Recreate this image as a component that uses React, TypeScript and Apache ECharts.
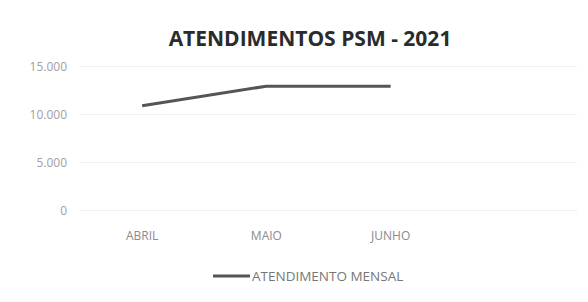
import React, { useEffect, useRef } from "react";
import * as echarts from "echarts";

const title = "ATENDIMENTOS PSM - 2021";
const categories = ["ABRIL", "MAIO", "JUNHO", ""];
const seriesName = "ATENDIMENTO MENSAL";
const values: (number | null)[] = [10850, 12900, 12900, null];
const yTicks = [0, 5000, 10000, 15000];

const fmt = (v: number) =>
  String(v).replace(/\B(?=(\d{3})+(?!\d))/g, ".");

export default function App() {
  const ref = useRef<HTMLDivElement>(null);
  useEffect(() => {
    const chart = echarts.init(ref.current!, undefined, { renderer: "svg" });
    chart.setOption({
      animation: false,
      backgroundColor: "#ffffff",
      title: {
        text: title,
        left: 305,
        textAlign: "center",
        top: 22,
        textStyle: {
          fontFamily: "Open Sans",
          fontWeight: "bold",
          fontSize: 21,
          color: "#2b2b2b",
        },
      },
      grid: { left: 80, right: 11, top: 66, bottom: 92 },
      xAxis: {
        type: "category",
        data: categories,
        boundaryGap: true,
        axisLine: { show: true, lineStyle: { color: "#efefef" } },
        axisTick: { show: false },
        axisLabel: {
          margin: 19,
          color: "#8a8a8a",
          fontFamily: "Open Sans",
          fontSize: 12,
        },
      },
      yAxis: {
        type: "value",
        min: yTicks[0],
        max: yTicks[yTicks.length - 1],
        interval: 5000,
        axisLine: { show: false },
        axisTick: { show: false },
        splitLine: { lineStyle: { color: "#efefef", width: 1 } },
        axisLabel: {
          margin: 13,
          color: "#a0a0a0",
          fontFamily: "Open Sans",
          fontSize: 12,
          formatter: fmt,
        },
      },
      legend: {
        data: [seriesName],
        left: 208,
        top: 264,
        icon: "rect",
        itemWidth: 37,
        itemHeight: 3,
        itemGap: 4,
        textStyle: {
          color: "#777777",
          fontFamily: "Open Sans",
          fontSize: 13.5,
          padding: [0, 0, 0, -3],
        },
      },
      series: [
        {
          name: seriesName,
          type: "line",
          data: values,
          symbol: "none",
          connectNulls: false,
          lineStyle: { color: "#555555", width: 3 },
          itemStyle: { color: "#555555" },
        },
      ],
    });
    return () => chart.dispose();
  }, []);
  return (
    <div
      ref={ref}
      style={{ position: "fixed", left: 0, top: 0, width: 588, height: 302 }}
    />
  );
}
